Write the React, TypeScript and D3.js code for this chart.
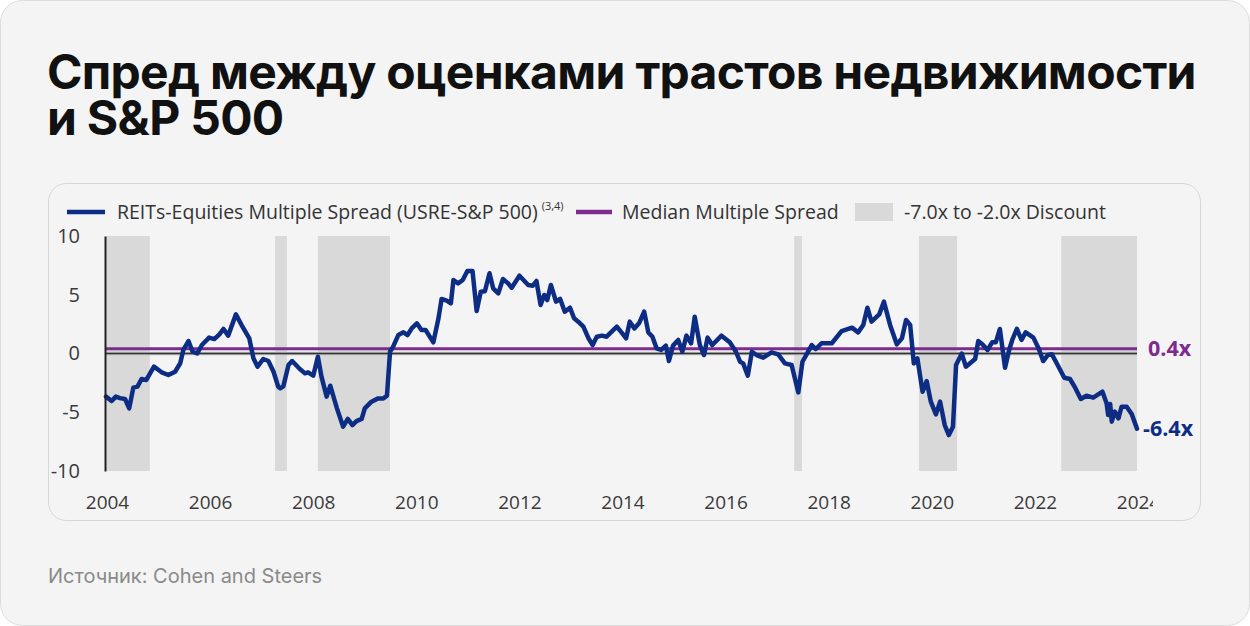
import React, { useRef, useEffect } from "react";
import * as d3 from "d3";

// monthly-ish readings (decimal year) of the REITs vs S&P 500 multiple spread
const dates = [
  2004.0, 2004.11, 2004.19, 2004.27, 2004.37, 2004.45, 2004.53, 2004.61, 2004.69, 2004.78,
  2004.93, 2005.08, 2005.21, 2005.34, 2005.44, 2005.5, 2005.6, 2005.68, 2005.77, 2005.86,
  2006.0, 2006.1, 2006.2, 2006.28, 2006.37, 2006.52, 2006.63, 2006.78, 2006.86, 2006.94,
  2007.05, 2007.15, 2007.25, 2007.34, 2007.38, 2007.44, 2007.54, 2007.61, 2007.76, 2007.86,
  2007.92, 2008.02, 2008.11, 2008.18, 2008.28, 2008.35, 2008.48, 2008.6, 2008.69, 2008.78,
  2008.86, 2008.96, 2009.02, 2009.15, 2009.28, 2009.38, 2009.45, 2009.51, 2009.57, 2009.67,
  2009.77, 2009.85, 2009.93, 2010.03, 2010.12, 2010.2, 2010.35, 2010.45, 2010.51, 2010.61,
  2010.69, 2010.74, 2010.83, 2010.92, 2011.01, 2011.11, 2011.19, 2011.27, 2011.35, 2011.44,
  2011.51, 2011.61, 2011.7, 2011.8, 2011.87, 2012.02, 2012.19, 2012.28, 2012.35, 2012.43,
  2012.5, 2012.56, 2012.63, 2012.73, 2012.81, 2012.9, 2013.0, 2013.08, 2013.16, 2013.26,
  2013.36, 2013.44, 2013.52, 2013.62, 2013.71, 2013.81, 2013.91, 2014.0, 2014.09, 2014.16,
  2014.25, 2014.34, 2014.44, 2014.52, 2014.6, 2014.68, 2014.77, 2014.86, 2014.92, 2015.0,
  2015.1, 2015.18, 2015.26, 2015.35, 2015.42, 2015.52, 2015.6, 2015.67, 2015.76, 2015.94,
  2016.1, 2016.22, 2016.3, 2016.36, 2016.45, 2016.53, 2016.62, 2016.75, 2016.91, 2017.04,
  2017.17, 2017.3, 2017.43, 2017.51, 2017.59, 2017.69, 2017.77, 2017.88, 2018.08, 2018.27,
  2018.47, 2018.59, 2018.69, 2018.77, 2018.85, 2019.0, 2019.09, 2019.21, 2019.34, 2019.44,
  2019.52, 2019.6, 2019.67, 2019.74, 2019.84, 2019.92, 2020.0, 2020.1, 2020.18, 2020.27,
  2020.35, 2020.43, 2020.49, 2020.6, 2020.68, 2020.86, 2020.92, 2021.0, 2021.1, 2021.19,
  2021.26, 2021.34, 2021.44, 2021.52, 2021.58, 2021.67, 2021.76, 2021.84, 2021.99, 2022.09,
  2022.18, 2022.27, 2022.35, 2022.46, 2022.59, 2022.7, 2022.8, 2022.91, 2023.02, 2023.15,
  2023.33, 2023.41, 2023.44, 2023.48, 2023.51, 2023.57, 2023.64, 2023.7, 2023.8, 2023.9,
  2024.0,
];
const spread = [
  -3.67, -4.05, -3.67, -3.8, -3.87, -4.67, -2.9, -2.82, -2.17, -2.26,
  -1.12, -1.6, -1.83, -1.55, -0.83, 0.3, 1.06, 0.15, 0.0, 0.72,
  1.35, 1.23, 1.63, 2.09, 1.52, 3.33, 2.42, 1.29, -0.41, -1.12,
  -0.47, -0.64, -1.55, -2.82, -2.96, -2.8, -0.98, -0.64, -1.32, -1.69,
  -1.6, -1.89, -0.27, -1.97, -3.67, -2.74, -4.67, -6.23, -5.57, -6.09,
  -5.75, -5.57, -4.67, -4.1, -3.82, -3.82, -3.59, 0.15, 0.58, 1.57,
  1.8, 1.57, 2.14, 2.57, 2.0, 2.0, 0.95, 3.0, 4.64, 4.5,
  4.27, 6.26, 5.97, 6.26, 7.02, 7.02, 3.62, 5.26, 5.3, 6.83,
  5.55, 5.12, 6.34, 5.97, 5.6, 6.62, 5.83, 5.77, 6.17, 4.13,
  4.98, 4.55, 5.83, 4.41, 4.64, 3.56, 3.9, 3.0, 2.71, 2.28,
  1.29, 0.72, 1.43, 1.52, 1.43, 1.86, 2.28, 1.8, 1.29, 2.71,
  2.14, 2.57, 3.56, 1.8, 1.43, 0.44, 0.3, 0.67, -0.64, 0.67,
  1.15, 0.15, 1.52, 0.87, 3.13, 0.72, -0.13, 1.35, 0.72, 1.52,
  0.95, 0.15, -0.7, -0.84, -1.89, 0.15, -0.13, -0.35, 0.1, -0.08,
  -0.84, -0.98, -3.31, -0.7, -0.07, 0.72, 0.38, 0.87, 0.87, 1.91,
  2.2, 1.8, 2.43, 3.9, 2.71, 3.33, 4.41, 2.43, 0.78, 1.29,
  2.85, 2.43, -0.84, -0.41, -3.25, -2.34, -4.1, -5.18, -4.1, -6.09,
  -6.94, -6.23, -0.98, 0.0, -1.12, -0.47, 1.06, 0.78, 0.3, 0.95,
  0.95, 2.09, -1.21, 0.3, 1.15, 2.09, 1.15, 1.8, 1.35, 0.44,
  -0.64, -0.13, -0.07, -0.98, -2.06, -2.17, -2.91, -3.87, -3.59, -3.76,
  -3.25, -4.24, -5.23, -4.3, -5.8, -4.95, -5.52, -4.53, -4.53, -5.18,
  -6.4,
];

// shaded "-7.0x to -2.0x discount" periods
const discountStart = [2004.0, 2007.28, 2008.11, 2017.35, 2019.77, 2022.53];
const discountEnd = [2004.85, 2007.51, 2009.51, 2017.5, 2020.51, 2024.0];

const yTicks = [10, 5, 0, -5, -10];
const xTicks = [2004, 2006, 2008, 2010, 2012, 2014, 2016, 2018, 2020, 2022, 2024];
const medianSpread = 0.4;
const lastSpread = -6.4;

const NAVY = "#0d2d84";
const PURPLE = "#7e2a8e";
const BAND = "#d9d9d9";
const chartFont = "'Open Sans', 'Noto Sans', sans-serif";
const titleFont = "Inter, 'Noto Sans', sans-serif";

export default function App() {
  const ref = useRef<SVGSVGElement>(null);

  useEffect(() => {
    const width = 1250;
    const height = 626;
    const svg = d3.select(ref.current).attr("width", width).attr("height", height);
    svg.selectAll("*").remove();

    // card + panel
    svg.append("rect")
      .attr("x", 0.5).attr("y", 0.5)
      .attr("width", width - 1).attr("height", height - 1)
      .attr("rx", 22)
      .attr("fill", "#f4f4f4")
      .attr("stroke", "#dcdcdc");

    const title = ["Спред между оценками трастов недвижимости", "и S&P 500"];
    svg.selectAll(".title")
      .data(title)
      .enter()
      .append("text")
      .attr("class", "title")
      .attr("x", 47)
      .attr("y", (d, i) => 89 + i * 46)
      .attr("font-family", titleFont)
      .attr("font-weight", 700)
      .attr("font-size", 48)
      .attr("letter-spacing", -0.7)
      .attr("fill", "#111")
      .text((d) => d);

    svg.append("rect")
      .attr("x", 48.5).attr("y", 183.5)
      .attr("width", 1152).attr("height", 337)
      .attr("rx", 18)
      .attr("fill", "#f4f4f4")
      .attr("stroke", "#d6d6d6");

    svg.append("text")
      .attr("x", 48).attr("y", 583)
      .attr("font-family", titleFont)
      .attr("font-size", 20)
      .attr("fill", "#8a8a8a")
      .text("Источник: Cohen and Steers");

    // scales
    const x = d3.scaleLinear().domain([2004, 2024]).range([106, 1137]);
    const y = d3.scaleLinear().domain([-10, 10]).range([471, 236]);

    const g = svg.append("g");

    // discount bands
    g.selectAll(".band")
      .data(discountStart)
      .enter()
      .append("rect")
      .attr("class", "band")
      .attr("x", (d) => x(d))
      .attr("width", (d, i) => x(discountEnd[i]) - x(d))
      .attr("y", y(10))
      .attr("height", y(-10) - y(10))
      .attr("fill", BAND);

    // zero line
    g.append("line")
      .attr("x1", x(2004)).attr("x2", x(2024))
      .attr("y1", y(0)).attr("y2", y(0))
      .attr("stroke", "#bdbdbd").attr("stroke-width", 3.5);
    g.append("line")
      .attr("x1", x(2004)).attr("x2", x(2024))
      .attr("y1", y(0)).attr("y2", y(0))
      .attr("stroke", "#333").attr("stroke-width", 1.4);

    // median line
    g.append("line")
      .attr("x1", x(2004)).attr("x2", x(2024))
      .attr("y1", y(medianSpread)).attr("y2", y(medianSpread))
      .attr("stroke", PURPLE).attr("stroke-width", 3);

    // spread line
    const line = d3.line<number>()
      .x((d, i) => x(dates[i]))
      .y((d) => y(d));
    g.append("path")
      .datum(spread)
      .attr("d", line)
      .attr("fill", "none")
      .attr("stroke", NAVY)
      .attr("stroke-width", 4.5)
      .attr("stroke-linejoin", "round")
      .attr("stroke-linecap", "round");

    // end labels
    g.append("text")
      .attr("x", x(2024) + 11).attr("y", y(medianSpread))
      .attr("dy", "0.35em")
      .attr("font-family", chartFont)
      .attr("font-weight", 700)
      .attr("font-size", 21.5)
      .attr("fill", PURPLE)
      .text(medianSpread.toFixed(1) + "x");
    g.append("text")
      .attr("x", x(2024) + 6).attr("y", y(lastSpread))
      .attr("dy", "0.35em")
      .attr("font-family", chartFont)
      .attr("font-weight", 700)
      .attr("font-size", 21.5)
      .attr("fill", NAVY)
      .text(lastSpread.toFixed(1) + "x");

    // y axis
    const yAxis = svg.append("g")
      .attr("transform", "translate(105,0)")
      .call(d3.axisLeft(y).tickValues(yTicks).tickSize(0).tickPadding(25).tickFormat((d) => String(d)));
    yAxis.select(".domain").attr("stroke", "#222").attr("stroke-width", 2);
    yAxis.selectAll("text")
      .attr("font-family", chartFont)
      .attr("font-size", 20)
      .attr("fill", "#3a3a3a");

    // x axis (last label cut off by the panel, like the source)
    svg.append("clipPath").attr("id", "xclip")
      .append("rect").attr("x", 0).attr("y", 0).attr("width", 1152).attr("height", height);
    const xAxis = svg.append("g")
      .attr("transform", `translate(1,${y(-10)})`)
      .attr("clip-path", "url(#xclip)")
      .call(d3.axisBottom(x).tickValues(xTicks).tickSize(0).tickPadding(25).tickFormat(d3.format("d")));
    xAxis.select(".domain").remove();
    xAxis.selectAll("text")
      .attr("font-family", chartFont)
      .attr("font-size", 19)
      .attr("fill", "#3a3a3a");

    // legend
    const lg = svg.append("g")
      .attr("font-family", chartFont)
      .attr("font-size", 19.5)
      .attr("fill", "#333");
    lg.append("line")
      .attr("x1", 67).attr("x2", 105).attr("y1", 212).attr("y2", 212)
      .attr("stroke", NAVY).attr("stroke-width", 4.5);
    const t1 = lg.append("text").attr("x", 117).attr("y", 219);
    t1.append("tspan").text("REITs-Equities Multiple Spread (USRE-S&P 500)");
    t1.append("tspan")
      .attr("dx", 4).attr("dy", -9).attr("font-size", 11)
      .text("(3,4)");
    lg.append("line")
      .attr("x1", 576).attr("x2", 612).attr("y1", 212).attr("y2", 212)
      .attr("stroke", PURPLE).attr("stroke-width", 4.5);
    lg.append("text").attr("x", 622).attr("y", 219).text("Median Multiple Spread");
    lg.append("rect")
      .attr("x", 855).attr("y", 203).attr("width", 38).attr("height", 18)
      .attr("fill", BAND);
    lg.append("text").attr("x", 904).attr("y", 219).text("-7.0x to -2.0x Discount");
  }, []);

  return (
    <div style={{ position: "absolute", left: 0, top: 0 }}>
      <svg ref={ref} />
    </div>
  );
}
